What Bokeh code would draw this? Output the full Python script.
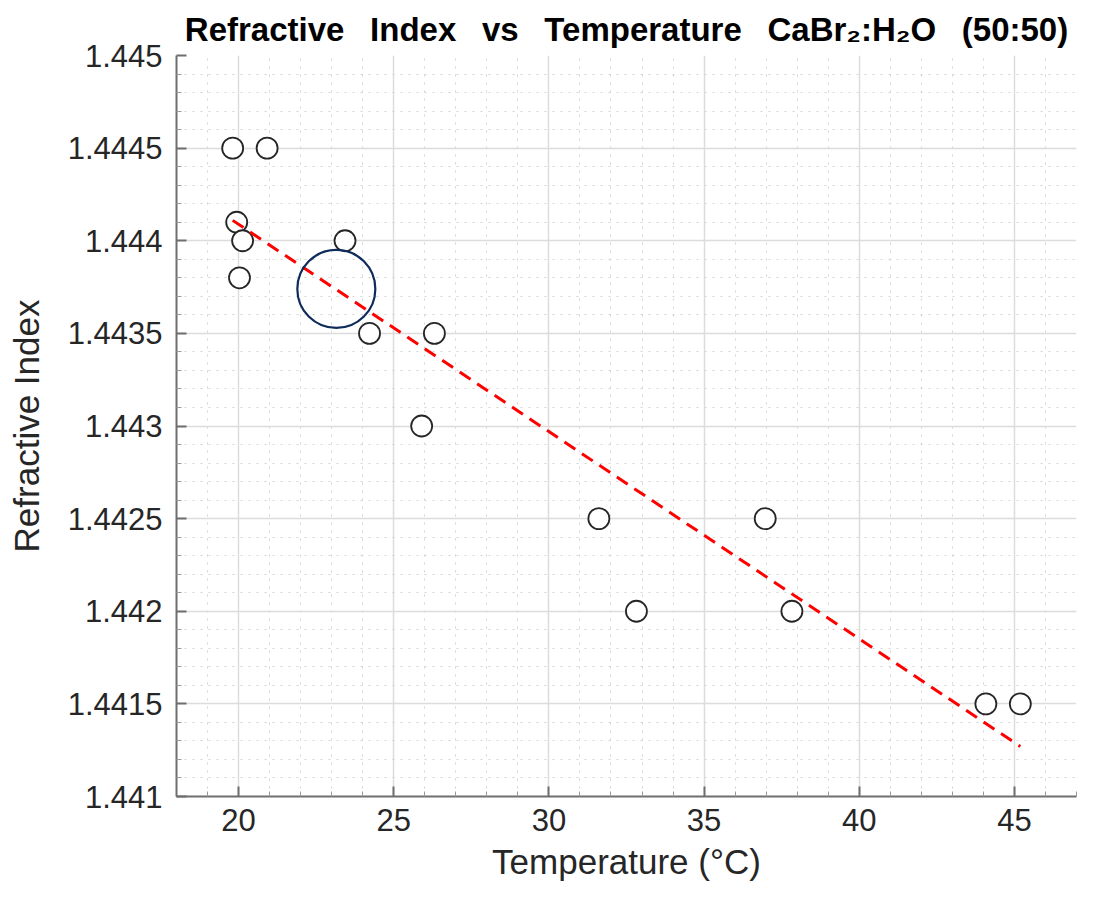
import numpy as np
from bokeh.plotting import figure
from bokeh.models import FixedTicker, Range1d
from bokeh.embed import file_html
from bokeh.resources import INLINE

# ---- data ----
temperature = [19.81, 20.92, 19.94, 20.13, 20.03, 23.43, 24.22, 26.31,
               25.90, 31.61, 32.82, 36.97, 37.83, 44.08, 45.19]
refractive_index = [1.4445, 1.4445, 1.4441, 1.4440, 1.4438, 1.4440, 1.4435, 1.4435,
                    1.4430, 1.4425, 1.4420, 1.4425, 1.4420, 1.4415, 1.4415]

fit_x = [19.81, 45.19]
fit_y = [1.44411, 1.44127]

highlight_x = [23.15]
highlight_y = [1.44374]

x_ticks = [20, 25, 30, 35, 40, 45]
x_labels = ["20", "25", "30", "35", "40", "45"]
y_ticks = [1.441, 1.4415, 1.442, 1.4425, 1.443, 1.4435, 1.444, 1.4445, 1.445]
y_labels = ["1.441", "1.4415", "1.442", "1.4425", "1.443", "1.4435", "1.444", "1.4445", "1.445"]

GAP = "\u2002\u00a0"
title_text = GAP.join(["Refractive", "Index", "vs", "Temperature",
                       "CaBr\u2082:H\u2082O", "(50:50)"])

FONT = "Liberation Sans"
DARK = "#262626"

p = figure(width=1078, height=883, output_backend="svg", toolbar_location=None,
           x_range=Range1d(18, 47), y_range=Range1d(1.441, 1.445),
           min_border_left=176, min_border_right=2, min_border_top=54,
           min_border_bottom=86)
p.outline_line_color = None
p.background_fill_color = "white"
p.border_fill_color = "white"

# title
p.title.text = title_text
p.title.align = "center"
p.title.text_font = FONT
p.title.text_font_size = "33px"
p.title.text_font_style = "bold"
p.title.text_color = "#000000"
p.title.standoff = 16

# tickers
x_minor = [v for v in np.arange(18, 48, 1).tolist() if v not in x_ticks]
y_minor = [round(v, 4) for v in np.arange(1.441, 1.44501, 0.0001).tolist()]
y_minor = [v for v in y_minor if v not in y_ticks]
p.xaxis.ticker = FixedTicker(ticks=x_ticks, minor_ticks=x_minor)
p.yaxis.ticker = FixedTicker(ticks=y_ticks, minor_ticks=y_minor)
p.xaxis.major_label_overrides = {t: l for t, l in zip(x_ticks, x_labels)}
p.yaxis.major_label_overrides = {t: l for t, l in zip(y_ticks, y_labels)}

for ax in (p.xaxis, p.yaxis):
    ax.axis_line_color = "#6e6e6e"
    ax.axis_line_width = 2
    ax.major_tick_line_color = "#6e6e6e"
    ax.major_tick_line_width = 2
    ax.major_tick_in = 10
    ax.major_tick_out = 0
    ax.minor_tick_line_color = "#9a9a9a"
    ax.minor_tick_line_width = 1
    ax.minor_tick_in = 5
    ax.minor_tick_out = 0
    ax.major_label_text_font = FONT
    ax.major_label_text_font_size = "31px"
    ax.major_label_text_color = DARK
    ax.axis_label_text_font = FONT
    ax.axis_label_text_font_size = "35px"
    ax.axis_label_text_font_style = "normal"
    ax.axis_label_text_color = DARK

p.xaxis.axis_label = "Temperature (\u00b0C)"
p.yaxis.axis_label = "Refractive Index"
p.xaxis.major_label_standoff = 12
p.yaxis.major_label_standoff = 14
p.xaxis.axis_label_standoff = 8
p.yaxis.axis_label_standoff = 19

# grids
for g in (p.xgrid, p.ygrid):
    g.grid_line_color = "#dcdcdc"
    g.grid_line_width = 1.5
    g.minor_grid_line_color = "#d2d2d2"
    g.minor_grid_line_width = 1
    g.minor_grid_line_dash = "2 6"

# glyphs
p.scatter(temperature, refractive_index, marker="circle", size=21,
          fill_color="white", line_color=DARK, line_width=1.8)
p.line(fit_x, fit_y, line_color="#ff0000", line_width=3, line_dash="13 8")
p.scatter(highlight_x, highlight_y, marker="circle", size=78,
          fill_color=None, line_color="#0f2b5b", line_width=2.2)

open("out.html", "w").write(file_html(p, INLINE))
